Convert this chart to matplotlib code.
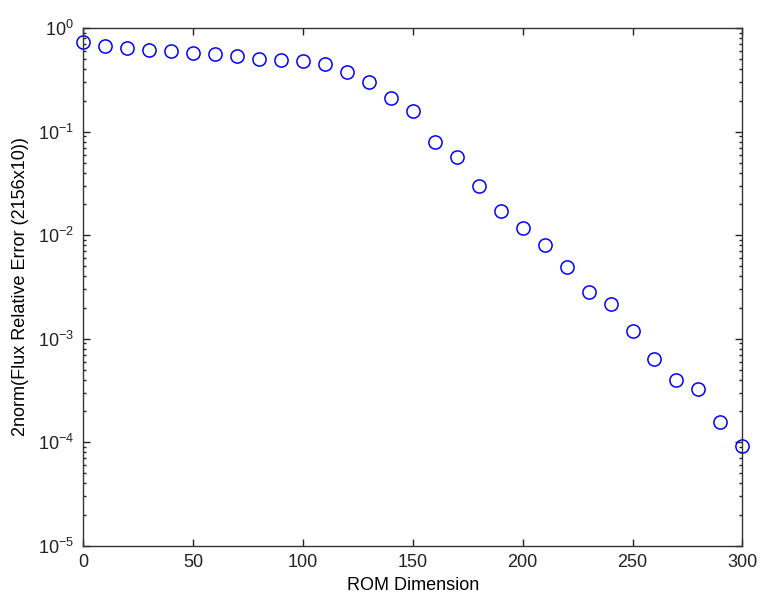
import numpy as np
import matplotlib
matplotlib.use('Agg')
import matplotlib.pyplot as plt
from matplotlib.ticker import LogLocator, NullFormatter

plt.rcParams['font.family'] = ['Liberation Sans', 'DejaVu Sans']
plt.rcParams['axes.unicode_minus'] = False

# ROM dimension vs relative flux error
rom_dim = [0, 10, 20, 30, 40, 50, 60, 70, 80, 90, 100, 110, 120, 130, 140, 150,
           160, 170, 180, 190, 200, 210, 220, 230, 240, 250, 260, 270, 280, 290, 300]
rel_err = [0.74, 0.68, 0.64, 0.62, 0.60, 0.58, 0.56, 0.54, 0.51, 0.49, 0.48, 0.45,
           0.376, 0.30, 0.212, 0.157, 0.0797, 0.0571, 0.0302, 0.0171, 0.0117,
           0.00807, 0.00491, 0.00284, 0.00217, 0.00118, 0.000643, 0.000403,
           0.00033, 0.000157, 0.000092]

fig = plt.figure(figsize=(7.59, 6.01), dpi=100)
ax = fig.add_axes([0.110, 0.092, 0.868, 0.861])

ax.semilogy(rom_dim, rel_err, 'o', markerfacecolor='none', markeredgecolor='#0000ff',
            markersize=9.5, markeredgewidth=1.1, clip_on=False)

ax.set_xlim(0, 300)
ax.set_ylim(1e-5, 1)
ax.set_xticks(np.arange(0, 301, 50))
ax.yaxis.set_major_locator(LogLocator(base=10, numticks=10))
ax.yaxis.set_minor_locator(LogLocator(base=10, subs=np.arange(2, 10), numticks=10))
ax.yaxis.set_minor_formatter(NullFormatter())

ax.tick_params(which='both', direction='in', top=True, right=True, labelsize=13, colors='#222222')
ax.tick_params(which='major', length=5, width=1)
ax.tick_params(axis='x', which='major', pad=6)
ax.tick_params(axis='y', which='major', pad=7)
ax.tick_params(which='minor', length=2.5, width=1)
for s in ax.spines.values():
    s.set_color('#333333')
    s.set_linewidth(1)

ax.set_xlabel('ROM Dimension', fontsize=13, labelpad=4)
ax.set_ylabel('2norm(Flux Relative Error (2156x10))', fontsize=13, labelpad=6)

plt.savefig('out.png', dpi=100)
